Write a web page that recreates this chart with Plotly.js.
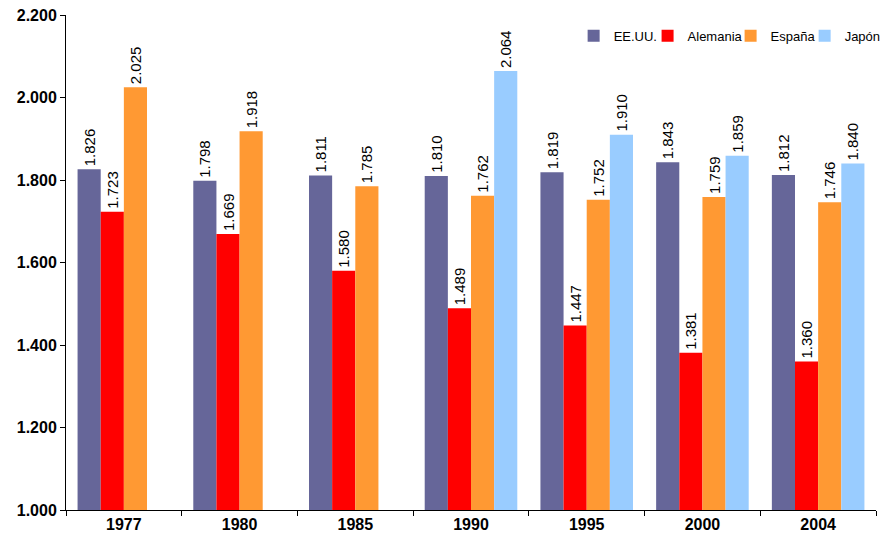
<!DOCTYPE html>
<html><head><meta charset="utf-8">
<script src="https://cdn.plot.ly/plotly-3.0.1.min.js"></script>
<style>body{margin:0;padding:0;background:#fff}#chart{width:884px;height:543px}</style>
</head><body><div id="chart"></div>
<script>
const years = ['1977','1980','1985','1990','1995','2000','2004'];
const eeuu = [1826,1798,1811,1810,1819,1843,1812];
const alemania = [1723,1669,1580,1489,1447,1381,1360];
const espana = [2025,1918,1785,1762,1752,1759,1746];
const japon = [null,null,null,2064,1910,1859,1840];
const names = ['EE.UU.','Alemania','España','Japón'];
const colors = ['#666699','#FF0000','#FF9933','#99CCFF'];
const series = [eeuu, alemania, espana, japon];
const legendIds = ['legend','legend2','legend3','legend4'];
const legendX = [0.6267, 0.7180, 0.8205, 0.9119];

const traces = series.map((s,i)=>({
  type:'bar', x: years, y: s, name: names[i], legend: legendIds[i],
  marker:{color: colors[i], line:{width:0}},
  texttemplate:'%{y:,.0f}', textposition:'outside', textangle:-90,
  constraintext:'none', cliponaxis:false,
  textfont:{family:'Arial, Liberation Sans, sans-serif', size:15, color:'#000'},
  hoverinfo:'none'
}));

const layout = {
  width:884, height:543,
  margin:{l:66, r:8, t:15, b:33, autoexpand:false},
  separators:',.',
  barmode:'group', bargap:0.2, bargroupgap:0,
  paper_bgcolor:'#fff', plot_bgcolor:'#fff',
  font:{family:'Arial, Liberation Sans, sans-serif', color:'#000'},
  showlegend:true,
  xaxis:{type:'category', showline:true, linecolor:'#000', linewidth:1,
    ticks:'outside', tickson:'boundaries', ticklen:5, tickcolor:'#000',
    showgrid:false, tickfont:{size:16, color:'#000', family:'Arial, Liberation Sans, sans-serif', weight:'bold'}},
  yaxis:{range:[1000,2200], dtick:200, tickformat:',.0f', showline:true, linecolor:'#000', linewidth:1,
    ticks:'outside', ticklen:5, tickcolor:'#000', showgrid:false, zeroline:false,
    tickfont:{size:16, color:'#000', family:'Arial, Liberation Sans, sans-serif', weight:'bold'}}
};
legendIds.forEach((id,i)=>{
  layout[id] = {orientation:'h', x:legendX[i], xanchor:'left', y:0.958, yanchor:'middle',
    font:{size:13, color:'#000'}, itemwidth:30, bgcolor:'rgba(0,0,0,0)'};
});
Plotly.newPlot('chart', traces, layout, {displayModeBar:false, staticPlot:true});
</script></body></html>
